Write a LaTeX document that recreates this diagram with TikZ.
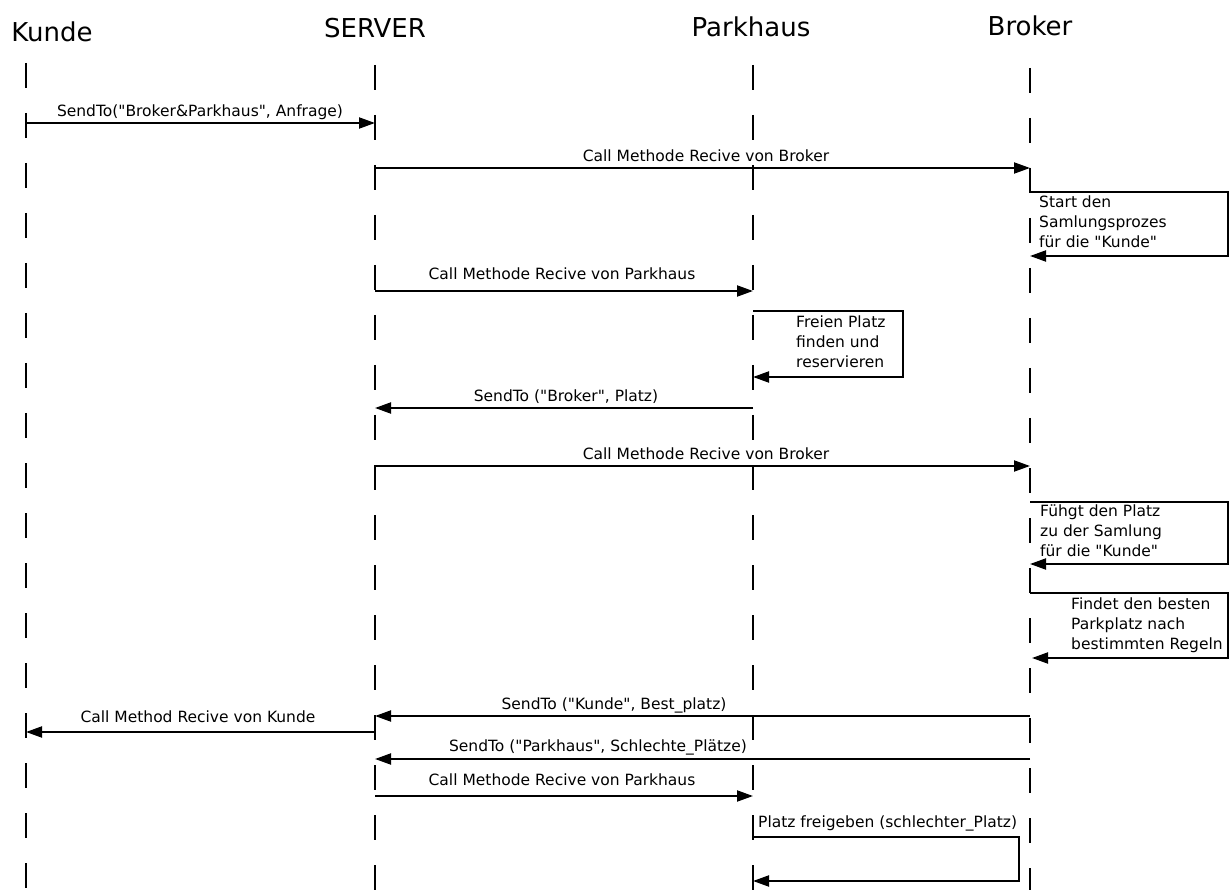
\documentclass[tikz,border=0pt]{standalone}
\usepackage{fontspec}
\setmainfont{DejaVu Sans}[Ligatures=TeXOff]
\usetikzlibrary{arrows.meta}
\begin{document}
\begin{tikzpicture}[x=1pt,y=-1pt,
  life/.style={line width=2pt, dash pattern=on 25pt off 25pt},
  msg/.style={line width=2pt, -{Triangle[length=16pt,width=11pt]}},
  lbl/.style={font=\fontsize{15.5}{20}\selectfont, anchor=base, inner sep=0pt},
  head/.style={font=\fontsize{26}{30}\selectfont, anchor=base, inner sep=0pt},
  note/.style={font=\fontsize{15.5}{20}\selectfont, anchor=north west, inner sep=0pt, align=left}]
\useasboundingbox (0,0) rectangle (1229,890);

% headers
\node[head] (hK) at (52,42) {Kunde};
\node[head] (hS) at (375,38) {SERVER};
\node[head] (hP) at (751,37) {Parkhaus};
\node[head] (hB) at (1030,36) {Broker};

% lifelines
\coordinate (K0) at (26,63);   \coordinate (K1) at (26,890);
\coordinate (S0) at (375,65);  \coordinate (S1) at (375,890);
\coordinate (P0) at (753,65);  \coordinate (P1) at (753,890);
\coordinate (B0) at (1030,68); \coordinate (B1) at (1030,890);
\draw[life] (K0) -- (K1);
\draw[life] (S0) -- (S1);
\draw[life] (P0) -- (P1);
\draw[life] (B0) -- (B1);

% 1
\coordinate (m1a) at (26,123); \coordinate (m1b) at (375,123);
\draw[msg] (m1a) -- (m1b);
\node[lbl] (l1) at (200,117) {SendTo("Broker\&Parkhaus", Anfrage)};
% 2
\coordinate (m2a) at (375,168); \coordinate (m2b) at (1030,168);
\draw[msg] (m2a) -- (m2b);
\node[lbl] (l2) at (706,162) {Call Methode Recive von Broker};
% 3 self loop broker
\coordinate (b1s) at (1030,168); \coordinate (b1a) at (1030,192);
\coordinate (b1b) at (1228,192); \coordinate (b1c) at (1228,256);
\coordinate (b1e) at (1030,256);
\draw[msg] (b1s) -- (b1a) -- (b1b) -- (b1c) -- (b1e);
\node[note] (n1) at (1039,196) {Start den\\Samlungsprozes\\für die "Kunde"};
% 4
\coordinate (m4a) at (375,291); \coordinate (m4b) at (753,291);
\draw[msg] (m4a) -- (m4b);
\node[lbl] (l4) at (562,280) {Call Methode Recive von Parkhaus};
% 5 self loop parkhaus
\coordinate (p1a) at (753,311); \coordinate (p1b) at (903,311);
\coordinate (p1c) at (903,377); \coordinate (p1e) at (753,377);
\draw[msg] (p1a) -- (p1b) -- (p1c) -- (p1e);
\node[note] (n2) at (796,316) {Freien Platz\\finden und\\reservieren};
% 6
\coordinate (m6a) at (753,408); \coordinate (m6b) at (375,408);
\draw[msg] (m6a) -- (m6b);
\node[lbl] (l6) at (566,402) {SendTo ("Broker", Platz)};
% 7
\coordinate (m7a) at (375,466); \coordinate (m7b) at (1030,466);
\draw[msg] (m7a) -- (m7b);
\node[lbl] (l7) at (706,460) {Call Methode Recive von Broker};
% 8 self loop broker
\coordinate (b2a) at (1030,502); \coordinate (b2b) at (1228,502);
\coordinate (b2c) at (1228,564); \coordinate (b2e) at (1030,564);
\draw[msg] (b2a) -- (b2b) -- (b2c) -- (b2e);
\node[note] (n3) at (1040,505) {Fühgt den Platz\\zu der Samlung\\für die "Kunde"};
% 9 self loop broker
\coordinate (b3a) at (1030,593); \coordinate (b3b) at (1228,593);
\coordinate (b3c) at (1228,658); \coordinate (b3e) at (1032,658);
\draw[msg] (b3a) -- (b3b) -- (b3c) -- (b3e);
\node[note] (n4) at (1071,598) {Findet den besten\\Parkplatz nach\\bestimmten Regeln};
% 10
\coordinate (m10a) at (1030,716); \coordinate (m10b) at (375,716);
\draw[msg] (m10a) -- (m10b);
\node[lbl] (l10) at (614,709) {SendTo ("Kunde", Best\_platz)};
% 11
\coordinate (m11a) at (375,732); \coordinate (m11b) at (26,732);
\draw[msg] (m11a) -- (m11b);
\node[lbl] (l11) at (198,722) {Call Method Recive von Kunde};
% 12
\coordinate (m12a) at (1030,759); \coordinate (m12b) at (375,759);
\draw[msg] (m12a) -- (m12b);
\node[lbl] (l12) at (598,751) {SendTo ("Parkhaus", Schlechte\_Plätze)};
% 13
\coordinate (m13a) at (375,796); \coordinate (m13b) at (753,796);
\draw[msg] (m13a) -- (m13b);
\node[lbl] (l13) at (562,785) {Call Methode Recive von Parkhaus};
% 14 self loop parkhaus
\coordinate (p2a) at (753,837); \coordinate (p2b) at (1019,837);
\coordinate (p2c) at (1019,881); \coordinate (p2e) at (753,881);
\draw[msg] (p2a) -- (p2b) -- (p2c) -- (p2e);
\node[lbl, anchor=base west] (l14) at (758,827) {Platz freigeben (schlechter\_Platz)};
\end{tikzpicture}
\end{document}
